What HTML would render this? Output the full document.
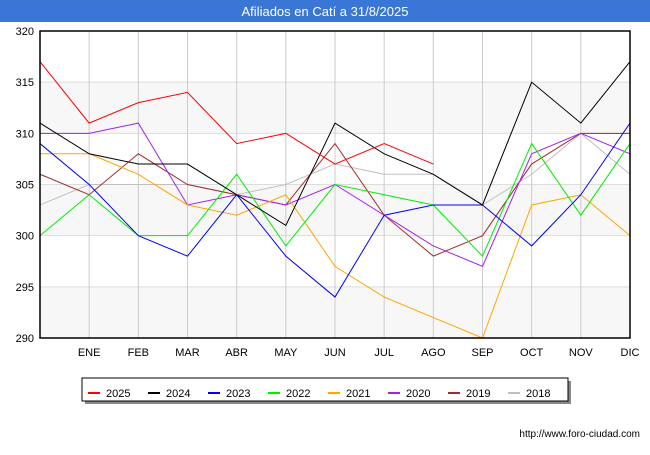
<!DOCTYPE html>
<html><head><meta charset="utf-8"><style>
body{margin:0;width:650px;height:450px;background:#fff;font-family:"Liberation Sans",sans-serif;overflow:hidden}
</style></head><body>
<svg width="650" height="450">
<rect x="0" y="0" width="650" height="22" fill="#3a76d6"/>
<text x="325" y="16" text-anchor="middle" fill="#fff" font-size="13">Afiliados en Catí a 31/8/2025</text>
<g id="grid"></g><g id="lines"></g>
<rect x="40" y="31" width="590" height="307" fill="none" stroke="#000" stroke-width="1.5"/>
<g id="legend"></g>
<text x="640" y="437" text-anchor="end" font-size="10" fill="#000">http://www.foro-ciudad.com</text>
</svg>
<script>
const months=["","ENE","FEB","MAR","ABR","MAY","JUN","JUL","AGO","SEP","OCT","NOV","DIC"];
const yTicks=[290,295,300,305,310,315,320];
const seriesNames=["2025","2024","2023","2022","2021","2020","2019","2018"];
const colors=["#ff0000","#000000","#0000ff","#00ee00","#ffa500","#a020f0","#a52a2a","#c0c0c0"];
const s2025=[317,311,313,314,309,310,307,309,307];
const s2024=[311,308,307,307,304,301,311,308,306,303,315,311,317];
const s2023=[309,305,300,298,304,298,294,302,303,303,299,304,311];
const s2022=[300,304,300,300,306,299,305,304,303,298,309,302,309];
const s2021=[308,308,306,303,302,304,297,294,292,290,303,304,300];
const s2020=[310,310,311,303,304,303,305,302,299,297,308,310,308];
const s2019=[306,304,308,305,304,303,309,302,298,300,307,310,310];
const s2018=[303,305,305,305,304,305,307,306,306,303,306,310,306];
const allSeries=[s2025,s2024,s2023,s2022,s2021,s2020,s2019,s2018];
const NS="http://www.w3.org/2000/svg";
const X=i=>40+i*(590/12), Y=v=>338-(v-290)*(307/30);
const grid=document.getElementById('grid');
function mk(t,a,p){const e=document.createElementNS(NS,t);for(const k in a)e.setAttribute(k,a[k]);p.appendChild(e);return e;}
for(let k=0;k<6;k+=2){const lo=yTicks[k];const r=mk('rect',{x:40,y:Y(lo+5),width:590,height:Y(lo)-Y(lo+5),fill:'#f7f7f7'},grid);

}
yTicks.forEach(v=>{const l=mk('line',{x1:40,x2:630,y1:Y(v),y2:Y(v),stroke:'#ddd'},grid);


const t=mk('text',{x:34,y:Y(v)+4,'text-anchor':'end','font-size':11},grid);t.textContent=v;

});
months.forEach((m,i)=>{if(i>0){const l=mk('line',{x1:X(i),x2:X(i),y1:31,y2:338,stroke:'#ccc'},grid);

}
const t=mk('text',{x:X(i),y:356,'text-anchor':'middle','font-size':11},grid);t.textContent=m;

});
const lines=document.getElementById('lines');
for(let s=allSeries.length-1;s>=0;s--){const p=mk('polyline',{points:allSeries[s].map((v,i)=>X(i)+','+Y(v)).join(' '),fill:'none',stroke:colors[s],'stroke-width':1},lines);

}
const lg=document.getElementById('legend');
const sh=mk('rect',{x:85,y:381,width:486,height:23,fill:'#888'},lg);


const box=mk('rect',{x:82,y:378,width:486,height:23,fill:'#fff',stroke:'#000'},lg);


seriesNames.forEach((n,i)=>{const x=88+i*60;
const l=mk('line',{x1:x,x2:x+12,y1:393,y2:393,stroke:colors[i],'stroke-width':2},lg);


const t=mk('text',{x:x+18,y:397,'font-size':11},lg);t.textContent=n;

});
</script>
</body></html>
